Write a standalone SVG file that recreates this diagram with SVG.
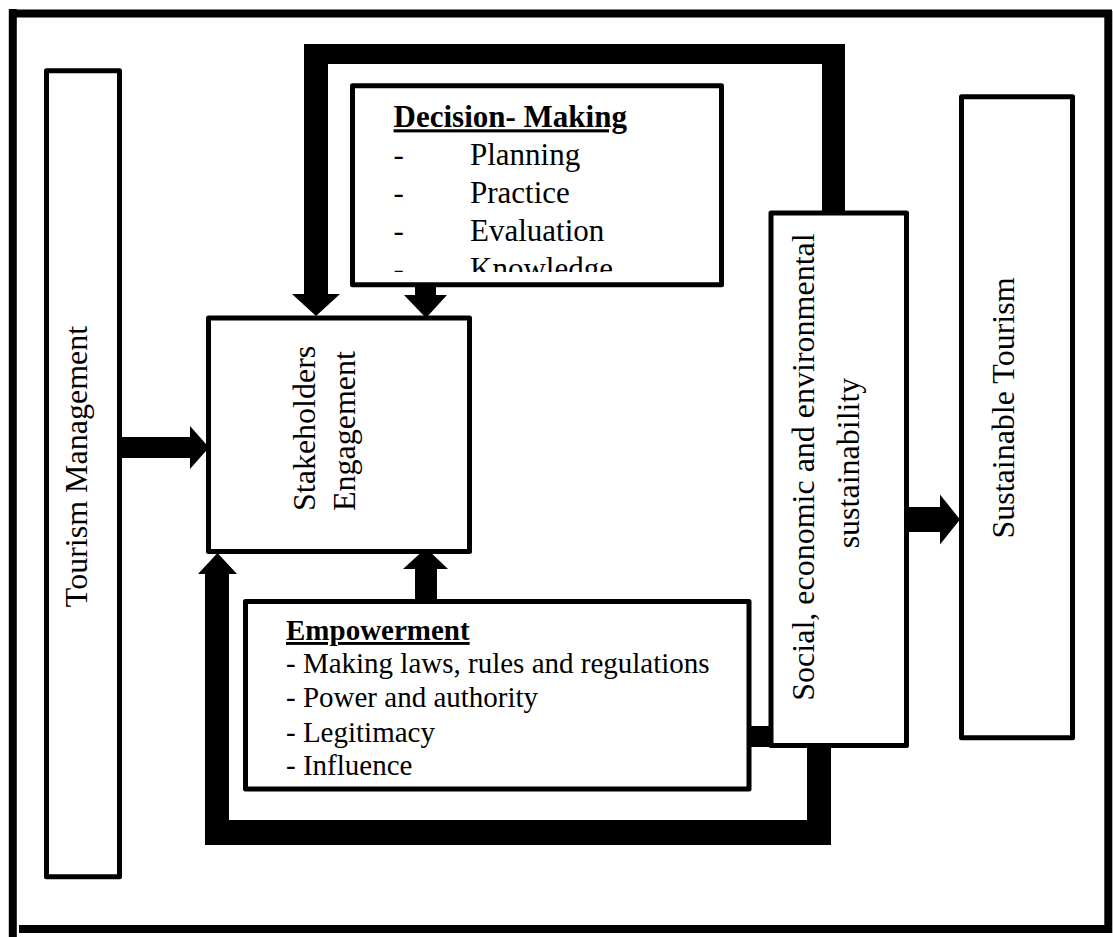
<svg xmlns="http://www.w3.org/2000/svg" width="1113" height="937" viewBox="0 0 1113 937">
<style>
  .box { fill: #fff; stroke: #000; stroke-width: 5; stroke-linejoin: round; }
  .frame { stroke: #000; stroke-width: 8; fill: none; }
  .conn { fill: #000; stroke: none; }
  .t { font-family: "Liberation Serif", "Times New Roman", serif; fill: #000; }
  .b { font-weight: bold; text-decoration: underline; }
</style>
<defs>
  <clipPath id="dmClip"><rect x="355" y="92" width="363" height="180"/></clipPath>
</defs>
<rect width="1113" height="937" fill="#fff"/>
<g id="frame">
  <line class="frame" x1="9" y1="13.5" x2="1112" y2="13.5"/>
  <line class="frame" x1="12.8" y1="9" x2="12.8" y2="937"/>
  <line class="frame" x1="1108.3" y1="11" x2="1108.3" y2="933"/>
  <line class="frame" x1="19" y1="929" x2="1112" y2="929"/>
</g>
<g id="connectors">
  <path class="conn" d="M304,44 H845 V213 H822 V64 H328 V294 H340 L316,316 L292,294 H304 Z"/>
  <path class="conn" d="M415,287 H436 V295 H447 L426,318 L404,295 H415 Z"/>
  <path class="conn" d="M122,437 H190 V426 L209,447.5 L190,469 V458 H122 Z"/>
  <path class="conn" d="M807,746 H831 V845 H205 V574 H198 L217.5,553 L237,574 H229 V820 H807 Z"/>
  <path class="conn" d="M415,600 V569 H403 L426,548 L448,569 H437 V600 Z"/>
  <rect class="conn" x="748" y="726" width="23" height="21"/>
  <path class="conn" d="M909,507 H940 V494.5 L960,519.5 L940,544.5 V532 H909 Z"/>
</g>
<g id="tourism-management">
  <rect class="box" x="46.5" y="70.7" width="73" height="806"/>
  <text class="t" font-size="32" text-anchor="middle" transform="translate(86.7,466.5) rotate(-90)">Tourism Management</text>
</g>
<g id="decision-making">
  <rect class="box" x="352.5" y="85.8" width="369" height="199"/>
  <text class="t b" font-size="31" x="393.6" y="127.3">Decision- Making</text>
  <g clip-path="url(#dmClip)" class="t" font-size="31">
    <text x="393.6" y="165">-</text><text x="470" y="165">Planning</text>
    <text x="393.6" y="202.5">-</text><text x="470" y="202.5">Practice</text>
    <text x="393.6" y="240.5">-</text><text x="470" y="240.5">Evaluation</text>
    <text x="393.6" y="278.5">-</text><text x="470" y="278.5">Knowledge</text>
  </g>
</g>
<g id="stakeholders-engagement">
  <rect class="box" x="208.5" y="318" width="261" height="233.5"/>
  <text class="t" font-size="32" transform="translate(315,511) rotate(-90)">Stakeholders</text>
  <text class="t" font-size="32" transform="translate(355,511) rotate(-90)">Engagement</text>
</g>
<g id="empowerment">
  <rect class="box" x="245.5" y="601.5" width="503.5" height="187.5"/>
  <text class="t b" font-size="29" x="286" y="640">Empowerment</text>
  <text class="t" font-size="29" x="286" y="673.3">- Making laws, rules and regulations</text>
  <text class="t" font-size="29" x="286" y="706.7">- Power and authority</text>
  <text class="t" font-size="29" x="286" y="741.7">- Legitimacy</text>
  <text class="t" font-size="29" x="286" y="775">- Influence</text>
</g>
<g id="sustainability">
  <rect class="box" x="771" y="213" width="135.5" height="532.5"/>
  <text class="t" font-size="32" text-anchor="middle" transform="translate(813.5,467) rotate(-90)">Social, economic and environmental</text>
  <text class="t" font-size="32" text-anchor="middle" transform="translate(858.5,463) rotate(-90)">sustainability</text>
</g>
<g id="sustainable-tourism">
  <rect class="box" x="961.5" y="96.8" width="111" height="641"/>
  <text class="t" font-size="32" text-anchor="middle" transform="translate(1014,408) rotate(-90)">Sustainable Tourism</text>
</g>
</svg>
